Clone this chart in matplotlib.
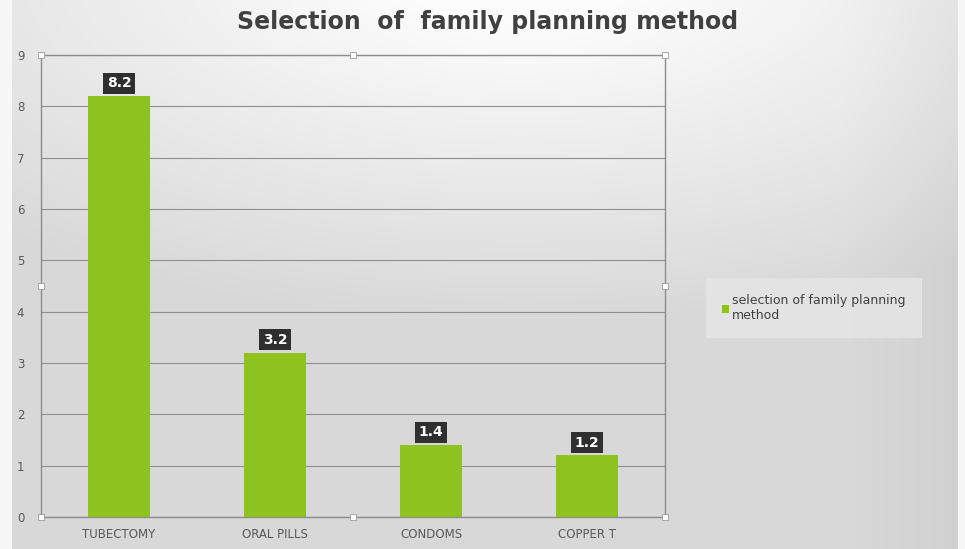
import numpy as np
import matplotlib.pyplot as plt

# Data
methods = ["TUBECTOMY", "ORAL PILLS", "CONDOMS", "COPPER T"]
counts = [8.2, 3.2, 1.4, 1.2]
y_ticks = list(range(0, 10))
series_name = "selection of family planning\nmethod"
title = "Selection  of  family planning method"

BAR_GREEN = "#8dc21f"
TEXT_GREY = "#595959"

fig = plt.figure(figsize=(9.65, 5.49), dpi=100)

# soft grey backdrop, lighter towards the top centre
bg = fig.add_axes([0, 0, 1, 1], zorder=-10)
h, w = 549, 965
yy, xx = np.mgrid[0:h, 0:w]
r = np.sqrt(((xx - 520) / 650.0) ** 2 + ((yy + 40) / 300.0) ** 2)
light = 0.99 - 0.14 * np.clip(r - 0.2, 0, 1)
light -= 0.03 * np.clip((xx - 840) / 120.0, 0, 1)
light[:, :12] = 0.97
light[:, 958:] = 0.97
img = np.dstack([light, light, light * 1.005])
bg.imshow(np.clip(img, 0, 1), aspect="auto", extent=[0, 1, 0, 1], origin="upper")
bg.axis("off")

ax = fig.add_axes([41 / 965, 32 / 549, 624 / 965, 462 / 549])
ax.patch.set_alpha(0)
x = np.arange(len(methods))
bars = ax.bar(x, counts, width=0.4, color=BAR_GREEN, zorder=3,
              label=series_name)

for b, v in zip(bars, counts):
    ax.text(b.get_x() + b.get_width() / 2, v + 0.25, f"{v}",
            ha="center", va="center", color="white", fontsize=10,
            fontweight="bold", zorder=5,
            bbox=dict(boxstyle="square,pad=0.25", fc="#2f2f2f", ec="none"))

ax.set_xlim(-0.5, len(methods) - 0.5)
ax.set_ylim(0, 9)
ax.set_yticks(y_ticks)
ax.set_xticks(x)
ax.set_xticklabels(methods)
ax.tick_params(axis="both", length=0, colors=TEXT_GREY, labelsize=8.5)
ax.tick_params(axis="y", pad=12)
ax.tick_params(axis="x", pad=8)
ax.yaxis.grid(True, color="#8f8f8f", linewidth=0.8, zorder=0)
ax.set_axisbelow(True)
for side in ["left", "bottom", "right", "top"]:
    ax.spines[side].set_color("#8c8c8c")
    ax.spines[side].set_linewidth(1.0)

# selection handles around the plot area
hx = [0, 0.5, 1, 0, 1, 0, 0.5, 1]
hy = [0, 0, 0, 0.5, 0.5, 1, 1, 1]
ax.scatter(hx, hy, s=22, marker="s", facecolor="white", edgecolor="#9a9a9a",
           linewidth=0.6, transform=ax.transAxes, clip_on=False, zorder=6)

fig.text(488 / 965, 1 - 22 / 549, title, ha="center", va="center",
         fontsize=17, fontweight="bold", color="#404040")

leg = fig.legend(handles=[bars], labels=[series_name], loc="center left",
                 bbox_to_anchor=(703 / 965, 1 - 308 / 549), frameon=True,
                 fontsize=9, handlelength=0.6, handleheight=0.6,
                 handletextpad=0.2, borderpad=1.0, labelcolor="#404040")
leg.get_frame().set_facecolor("#e6e6e6")
leg.get_frame().set_edgecolor("none")
leg.get_frame().set_boxstyle("square")

fig.savefig("out.png", dpi=100)
